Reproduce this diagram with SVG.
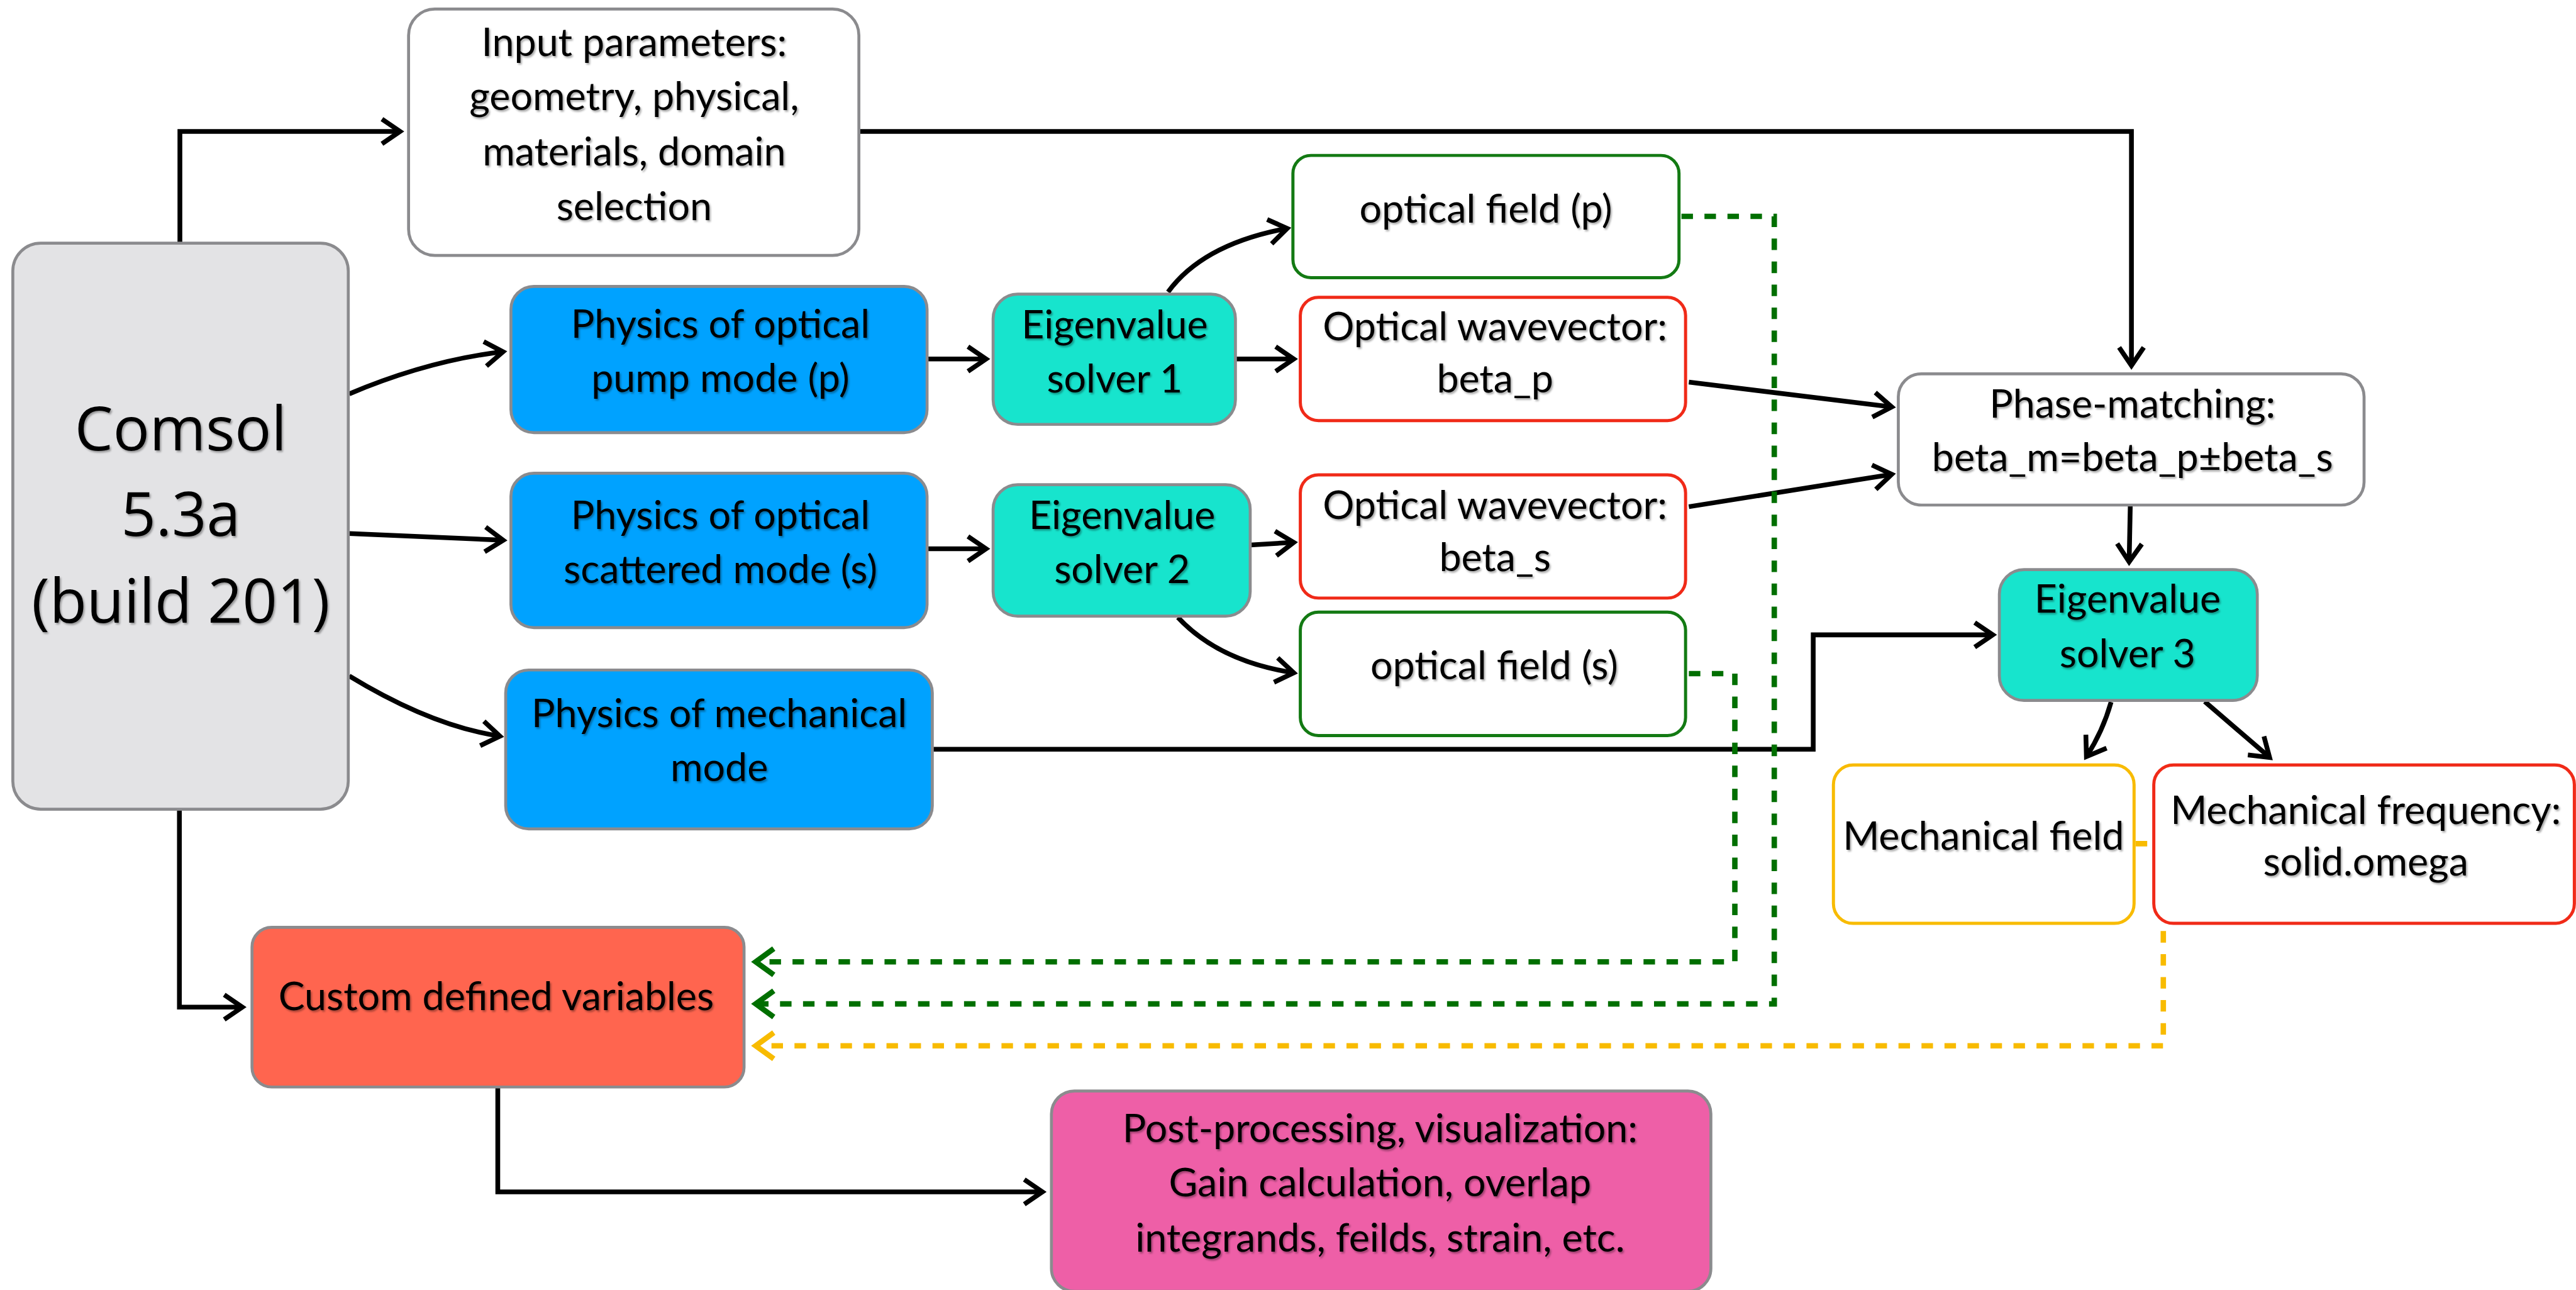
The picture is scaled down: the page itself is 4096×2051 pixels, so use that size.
<svg xmlns="http://www.w3.org/2000/svg" width="4096" height="2051" viewBox="0 0 4096 2051">
<defs>
<style>
.box-gray{stroke:#8b8b8e;stroke-width:1.8}
.box-col{fill:#ffffff;stroke-width:1.9}
.t{font-family:Lato,"Open Sans","Liberation Sans",sans-serif;font-size:24px;fill:#000;text-anchor:middle;filter:url(#ts)}
.big{font-family:"Open Sans","DejaVu Sans",sans-serif;font-size:37px;fill:#000;text-anchor:middle;filter:url(#ts)}
.ln{fill:none;stroke:#000;stroke-width:2.9;marker-end:url(#ab)}
.dg{fill:none;stroke:#006f00;stroke-width:3.3;stroke-dasharray:7 7;marker-end:url(#ag)}
.dy{fill:none;stroke:#f8bb00;stroke-width:3.3;stroke-dasharray:7 7;marker-end:url(#ay)}
</style>
<filter id="ts" x="-10%" y="-30%" width="120%" height="160%">
<feDropShadow dx="0.8" dy="1" stdDeviation="0.7" flood-color="#000" flood-opacity="0.35"/>
</filter>
<marker id="ab" markerUnits="userSpaceOnUse" viewBox="-15 -15 30 30" markerWidth="30" markerHeight="30" refX="0" refY="0" orient="auto" overflow="visible">
<path d="M-11,-7.5 L0,0 L-11,7.5" fill="none" stroke="#000" stroke-width="2.9"/>
</marker>
<marker id="ag" markerUnits="userSpaceOnUse" viewBox="-15 -15 30 30" markerWidth="30" markerHeight="30" refX="0" refY="0" orient="auto" overflow="visible">
<path d="M-11,-8 L0,0 L-11,8" fill="none" stroke="#006f00" stroke-width="3.3"/>
</marker>
<marker id="ay" markerUnits="userSpaceOnUse" viewBox="-15 -15 30 30" markerWidth="30" markerHeight="30" refX="0" refY="0" orient="auto" overflow="visible">
<path d="M-11,-8 L0,0 L-11,8" fill="none" stroke="#f8bb00" stroke-width="3.3"/>
</marker>
</defs>
<rect width="4096" height="2051" fill="#ffffff"/>
<g transform="scale(2.612245)">

<g id="connectors">
<path class="ln" d="M109.5,148 V80 H243.5"/>
<path class="ln" d="M523,80 H1297.4 V222.5"/>
<path class="ln" d="M212.6,239.7 Q261.1,219.25 306.2,214.1"/>
<path class="ln" d="M212.6,324.7 L306.3,328.8"/>
<path class="ln" d="M212.6,411.4 Q262.1,441.6 304.3,448.1"/>
<path class="ln" d="M564.3,218.5 H600.2"/>
<path class="ln" d="M564.3,334 H600.2"/>
<path class="ln" d="M752,218.5 H787.5"/>
<path class="ln" d="M711,177.7 Q732.3,148.5 783.5,139"/>
<path class="ln" d="M761,331.7 L787.5,330.1"/>
<path class="ln" d="M717,375.8 Q741.9,402.5 787.5,409.5"/>
<path class="ln" d="M1028,232.6 L1151.5,247.7"/>
<path class="ln" d="M1028,308.4 L1151.5,288.7"/>
<path class="ln" d="M1296.7,307.4 L1296,342"/>
<path class="ln" d="M567,456 H1103.7 V386.4 H1213"/>
<path class="ln" d="M1285,427.3 Q1280,445 1270,460.5"/>
<path class="ln" d="M1342,427 L1381.5,461"/>
<path class="ln" d="M109.2,492.5 V613 H147.5"/>
<path class="ln" d="M303,661.8 V725.4 H634.5"/>
<path class="dg" d="M1023.5,131.7 H1080 V611 H460"/>
<path class="dg" d="M1028,410 H1056 V585.4 H460"/>
<path class="dy" d="M1300,513.5 H1316.8 V636.5 H460"/>
</g>

<g id="comsol">
<rect class="box-gray" x="7.8" y="148" width="204.2" height="344.5" rx="17" fill="#e3e3e5"/>
<text class="big" x="110" y="274">Comsol</text>
<text class="big" x="110" y="326">5.3a</text>
<text class="big" x="110" y="379">(build 201)</text>
</g>

<g id="input-parameters">
<rect class="box-gray" x="248.7" y="5.5" width="274.1" height="150" rx="16" fill="#ffffff"/>
<text class="t" x="386" y="34">Input parameters:</text>
<text class="t" x="386" y="67">geometry, physical,</text>
<text class="t" x="386" y="100.5">materials, domain</text>
<text class="t" x="386" y="134">selection</text>
</g>

<g id="physics-pump">
<rect class="box-gray" x="311" y="174.3" width="253.3" height="89" rx="14" fill="#00a2ff"/>
<text class="t" x="438.5" y="205.5">Physics of optical</text>
<text class="t" x="438.5" y="238.5">pump mode (p)</text>
</g>

<g id="physics-scattered">
<rect class="box-gray" x="311" y="288" width="253.3" height="94" rx="14" fill="#00a2ff"/>
<text class="t" x="438.5" y="322">Physics of optical</text>
<text class="t" x="438.5" y="355">scattered mode (s)</text>
</g>

<g id="physics-mechanical">
<rect class="box-gray" x="307.8" y="407.8" width="259.7" height="96.7" rx="14" fill="#00a2ff"/>
<text class="t" x="437.8" y="442.6">Physics of mechanical</text>
<text class="t" x="437.8" y="475.6">mode</text>
</g>

<g id="eigen-1">
<rect class="box-gray" x="604.5" y="179" width="147.5" height="79.3" rx="15" fill="#17e4cd"/>
<text class="t" x="678.5" y="205.8">Eigenvalue</text>
<text class="t" x="678.5" y="238.8">solver 1</text>
</g>

<g id="eigen-2">
<rect class="box-gray" x="604.5" y="295" width="156.5" height="80" rx="15" fill="#17e4cd"/>
<text class="t" x="683" y="322">Eigenvalue</text>
<text class="t" x="683" y="355">solver 2</text>
</g>

<g id="optical-field-p">
<rect class="box-col" x="787" y="94.6" width="235" height="74.4" rx="11" stroke="#137a13"/>
<text class="t" x="904.4" y="135.6">optical field (p)</text>
</g>

<g id="wavevector-p">
<rect class="box-col" x="791.5" y="181" width="234.5" height="75" rx="11" stroke="#f02a18"/>
<text class="t" x="910" y="207">Optical wavevector:</text>
<text class="t" x="910" y="238.7">beta_p</text>
</g>

<g id="wavevector-s">
<rect class="box-col" x="791.5" y="289" width="234.5" height="75" rx="11" stroke="#f02a18"/>
<text class="t" x="910" y="315.7">Optical wavevector:</text>
<text class="t" x="910" y="347.7">beta_s</text>
</g>

<g id="optical-field-s">
<rect class="box-col" x="791.5" y="372.6" width="234.5" height="75.1" rx="11" stroke="#137a13"/>
<text class="t" x="909.5" y="413.5">optical field (s)</text>
</g>

<g id="phase-matching">
<rect class="box-gray" x="1155.5" y="227.5" width="283.5" height="79.9" rx="14" fill="#ffffff"/>
<text class="t" x="1298" y="254">Phase-matching:</text>
<text class="t" x="1298" y="286.7">beta_m=beta_p±beta_s</text>
</g>

<g id="eigen-3">
<rect class="box-gray" x="1217" y="346.7" width="157" height="79.6" rx="15" fill="#17e4cd"/>
<text class="t" x="1295" y="373">Eigenvalue</text>
<text class="t" x="1295" y="406.3">solver 3</text>
</g>

<g id="mechanical-field">
<rect class="box-col" x="1116" y="465.6" width="183" height="96.4" rx="12" stroke="#f8bb00"/>
<text class="t" x="1207.3" y="517">Mechanical field</text>
</g>

<g id="mechanical-frequency">
<rect class="box-col" x="1311" y="465.6" width="256" height="96.4" rx="12" stroke="#f02a18"/>
<text class="t" x="1440" y="501.5">Mechanical frequency:</text>
<text class="t" x="1440" y="532.7">solid.omega</text>
</g>

<g id="custom-variables">
<rect class="box-gray" x="153.4" y="564.4" width="299.5" height="97.2" rx="12" fill="#ff654f"/>
<text class="t" x="302" y="614.8">Custom defined variables</text>
</g>

<g id="post-processing">
<rect class="box-gray" x="640" y="664" width="401.4" height="122" rx="14" fill="#ee5fa7"/>
<text class="t" x="840" y="695">Post-processing, visualization:</text>
<text class="t" x="840" y="728">Gain calculation, overlap</text>
<text class="t" x="840" y="761.7">integrands, feilds, strain, etc.</text>
</g>

</g>
</svg>
